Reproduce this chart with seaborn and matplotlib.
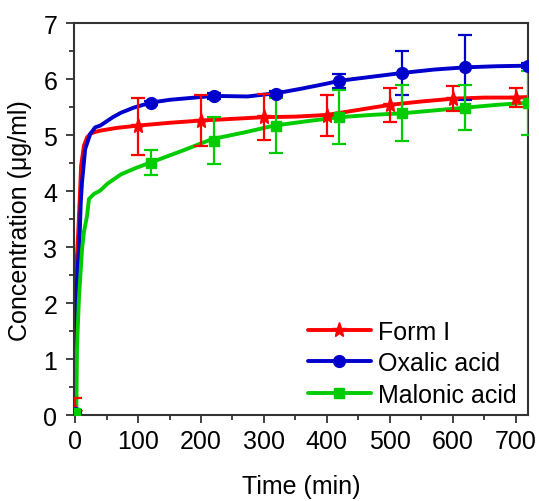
import matplotlib
matplotlib.use("Agg")
import matplotlib.pyplot as plt
from matplotlib.lines import Line2D
import seaborn as sns
import pandas as pd

# ---- data ----
# dense release curves
red_t = [0, 0.3, 1, 3, 5, 7.4, 9.5, 14, 19, 24, 30, 40, 67, 100, 150, 200, 250, 300, 350, 400, 450, 500, 550, 600, 650, 700, 720]
red_y = [0.05, 2.5, 2.75, 2.85, 3.27, 3.86, 4.45, 4.81, 4.96, 5.02, 5.05, 5.08, 5.13, 5.17, 5.22, 5.26, 5.29, 5.32, 5.33, 5.36, 5.45, 5.54, 5.60, 5.65, 5.67, 5.67, 5.68]

blue_t = [0, 0.5, 2, 4, 6, 7.4, 9, 11, 16, 24, 32, 40, 60, 73, 93, 120, 150, 200, 221, 274, 321, 360, 400, 420, 470, 520, 570, 620, 670, 720]
blue_y = [0.05, 1.5, 2.07, 2.6, 2.96, 3.27, 3.8, 4.16, 4.75, 5.02, 5.14, 5.17, 5.32, 5.40, 5.49, 5.58, 5.63, 5.68, 5.70, 5.69, 5.75, 5.83, 5.92, 5.97, 6.04, 6.11, 6.17, 6.21, 6.23, 6.24]

green_t = [0, 2, 3, 6, 11, 14, 19, 22, 30, 40, 51, 73, 98, 120, 170, 218, 270, 316, 370, 420, 470, 520, 570, 620, 670, 720]
green_y = [0.05, 0.1, 1.18, 2.07, 2.96, 3.27, 3.56, 3.86, 3.95, 4.01, 4.13, 4.30, 4.42, 4.51, 4.72, 4.93, 5.05, 5.17, 5.25, 5.32, 5.36, 5.39, 5.44, 5.49, 5.54, 5.58]

# sampled points with error bars
red_pt_t = [0, 100, 200, 300, 400, 500, 600, 700]
red_pt_y = [0.05, 5.16, 5.26, 5.32, 5.35, 5.54, 5.65, 5.67]
red_pt_e = [0.25, 0.51, 0.45, 0.41, 0.36, 0.30, 0.22, 0.17]

blue_pt_t = [0, 120, 220, 320, 420, 520, 620, 720]
blue_pt_y = [0.03, 5.57, 5.70, 5.73, 5.97, 6.11, 6.21, 6.24]
blue_pt_e = [0.06, 0.04, 0.06, 0.05, 0.12, 0.39, 0.58, 0.05]

green_pt_t = [0, 120, 220, 320, 420, 520, 620, 720]
green_pt_y = [0.03, 4.51, 4.90, 5.17, 5.32, 5.39, 5.49, 5.58]
green_pt_e = [0.02, 0.22, 0.42, 0.49, 0.48, 0.50, 0.40, 0.57]

labels = ["Form I", "Oxalic acid", "Malonic acid"]
x_ticks = [0, 100, 200, 300, 400, 500, 600, 700]
y_ticks = [0, 1, 2, 3, 4, 5, 6, 7]

# ---- style ----
sns.set_theme(style="ticks")
plt.rcParams['font.family'] = ['Liberation Sans', 'DejaVu Sans']
plt.rcParams['font.size'] = 18
plt.rcParams['text.color'] = 'black'
plt.rcParams['axes.labelcolor'] = 'black'

colors = ["#ff0000", "#0000cc", "#00cc00"]
markers = ["*", "o", "s"]
msizes = [11, 8.5, 7.5]

fig = plt.figure(figsize=(5.39, 5.02), dpi=100)
ax = fig.add_axes([0.137, 0.171, 0.843, 0.781])

curves = [(red_t, red_y), (blue_t, blue_y), (green_t, green_y)]
points = [(red_pt_t, red_pt_y, red_pt_e), (blue_pt_t, blue_pt_y, blue_pt_e),
          (green_pt_t, green_pt_y, green_pt_e)]

for (t, y), (pt, py, pe), c, m, ms, lab in zip(curves, points, colors, markers, msizes, labels):
    df = pd.DataFrame({"t": t, "y": y})
    sns.lineplot(data=df, x="t", y="y", ax=ax, color=c, lw=2.8, sort=False,
                 estimator=None, legend=False, clip_on=True)
    ax.errorbar(pt, py, yerr=pe, fmt=m, color=c, ms=ms, elinewidth=1.6,
                capsize=5, capthick=1.6, clip_on=True, zorder=3)

ax.set_xlim(-2, 720)
ax.set_ylim(0, 7)
ax.set_xticks(x_ticks)
ax.set_yticks(y_ticks)
ax.set_xticks([50, 150, 250, 350, 450, 550, 650], minor=True)
ax.set_yticks([0.5, 1.5, 2.5, 3.5, 4.5, 5.5, 6.5], minor=True)
ax.tick_params(which="major", direction="out", length=6, width=1.3, colors="#333333",
               labelsize=18, labelcolor="black", pad=4)
ax.tick_params(which="minor", direction="out", length=3.5, width=1.3, colors="#333333")
ax.tick_params(axis="y", which="major", pad=6)
for s in ax.spines.values():
    s.set_visible(True)
    s.set_linewidth(1.5)
    s.set_color("#333333")

ax.set_xlabel("Time (min)", fontsize=18, labelpad=15, color="black")
ax.set_ylabel("Concentration (μg/ml)", fontsize=18, labelpad=8, color="black")

handles = [Line2D([0], [0], color=c, lw=2.8, marker=m, ms=ms)
           for c, m, ms in zip(colors, markers, msizes)]
ax.legend(handles, labels, loc="lower right", frameon=False, fontsize=18,
          handlelength=2.5, handletextpad=0.3, labelspacing=0.3,
          borderaxespad=0.0, bbox_to_anchor=(0.997, -0.004))

fig.savefig("out.png", dpi=100)
